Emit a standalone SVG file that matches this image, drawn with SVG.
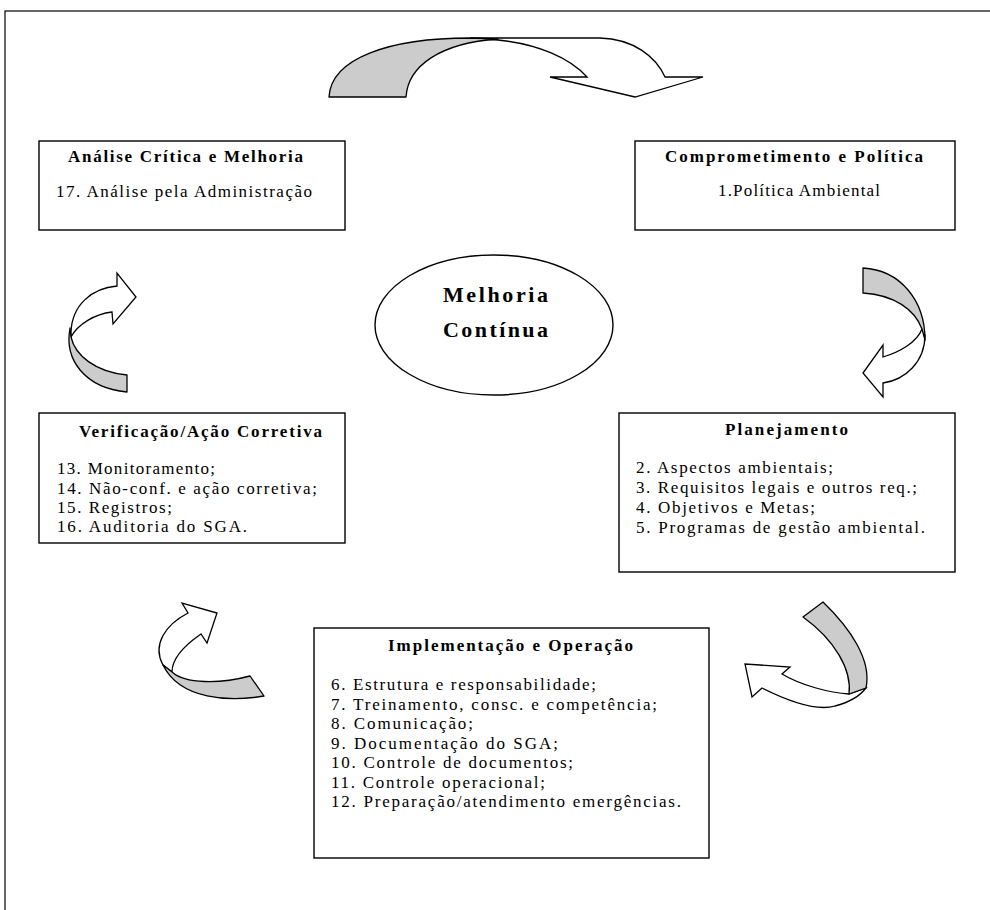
<svg xmlns="http://www.w3.org/2000/svg" width="990" height="910" viewBox="0 0 990 910">
  <style>
    .box { fill: #fff; stroke: #000; stroke-width: 1.4; }
    .frame { fill: none; stroke: #000; stroke-width: 1.2; }
    .band { fill: #cccccc; stroke: #000; stroke-width: 1.3; stroke-linejoin: round; }
    .head { fill: #fff; stroke: #000; stroke-width: 1.3; stroke-linejoin: miter; }
    .ttl { font-family: "Liberation Serif", "Times New Roman", serif; font-weight: bold; font-size: 17px; fill: #000; }
    .txt { font-family: "Liberation Serif", "Times New Roman", serif; font-size: 17px; fill: #000; }
    .big { font-family: "Liberation Serif", "Times New Roman", serif; font-weight: bold; font-size: 22px; fill: #000; }
  </style>

  <rect width="990" height="910" fill="#fff"/>
  <!-- page frame (right and bottom edges fall outside the sheet) -->
  <rect class="frame" x="5" y="11" width="1000" height="1000"/>

  <!-- curved ribbon arrows between the stages -->
  <g id="connectors">
    <g id="arrow-top">
      <path class="head" d="M470,38 L600,38 C634,39 656,57 665,77 L703,77 L635,97 L550,77 L587,77 C570,58 538,44 498,40 Z"/>
      <path class="band" d="M329,97 C331,58 390,38 470,38 L498,39 C440,43 408,66 406,97 Z"/>
    </g>
    <g id="arrow-right">
      <path class="head" d="M922,329 C917,342 900,352 883,357 L883,345 L863,373 L883,397 L883,383 C905,380 925,362 925,335 Z"/>
      <path class="band" d="M863,268 C900,270 925,300 925,340 L922,329 C915,310 895,295 863,293 Z"/>
    </g>
    <g id="arrow-bottom-right">
      <path class="head" d="M849,694 C830,693 800,685 782,674 L790,667 L745,664 L752,697 L762,688 C790,702 818,711 835,706 C850,702 860,696 866,688 Z"/>
      <path class="band" d="M823,602 C850,628 872,660 866,688 L849,694 C852,670 835,640 803,617 Z"/>
    </g>
    <g id="arrow-bottom-left">
      <path class="head" d="M163,665 C152,645 165,625 188,613 L182,603 L217,613 L207,643 L201,634 C185,645 172,658 172,672 Z"/>
      <path class="band" d="M163,665 C180,700 230,702 264,696 L250,676 C220,684 185,684 172,672 Z"/>
    </g>
    <g id="arrow-left">
      <path class="head" d="M71,332 C72,305 92,288 117,286 L117,273 L136,297 L113,324 L112,312 C95,314 78,324 71,337 Z"/>
      <path class="band" d="M70,328 C64,360 85,388 127,392 L127,375 C95,372 75,355 71,337 Z"/>
    </g>
  </g>

  <g id="analise-critica">
    <rect class="box" x="39" y="141" width="306" height="89"/>
    <text class="ttl" x="68" y="162" textLength="235" lengthAdjust="spacing">Análise Crítica e Melhoria</text>
    <text class="txt" x="56" y="197" textLength="256" lengthAdjust="spacing">17. Análise pela Administração</text>
  </g>

  <g id="comprometimento">
    <rect class="box" x="635" y="141" width="320" height="89"/>
    <text class="ttl" x="665" y="162" textLength="258" lengthAdjust="spacing">Comprometimento e Política</text>
    <text class="txt" x="718" y="196" textLength="162" lengthAdjust="spacing">1.Política Ambiental</text>
  </g>

  <g id="melhoria-continua">
    <ellipse class="box" cx="494" cy="325" rx="119" ry="70"/>
    <text class="big" x="443" y="302" textLength="105" lengthAdjust="spacing">Melhoria</text>
    <text class="big" x="443" y="337" textLength="105" lengthAdjust="spacing">Contínua</text>
  </g>

  <g id="verificacao">
    <rect class="box" x="39" y="413" width="306" height="130"/>
    <text class="ttl" x="79" y="437" textLength="243" lengthAdjust="spacing">Verificação/Ação Corretiva</text>
    <text class="txt" x="57" y="474" textLength="158" lengthAdjust="spacing">13. Monitoramento;</text>
    <text class="txt" x="57" y="494" textLength="260" lengthAdjust="spacing">14. Não-conf. e ação corretiva;</text>
    <text class="txt" x="57" y="513" textLength="115" lengthAdjust="spacing">15. Registros;</text>
    <text class="txt" x="57" y="532" textLength="190" lengthAdjust="spacing">16. Auditoria do SGA.</text>
  </g>

  <g id="planejamento">
    <rect class="box" x="619" y="413" width="336" height="159"/>
    <text class="ttl" x="725" y="435" textLength="123" lengthAdjust="spacing">Planejamento</text>
    <text class="txt" x="636" y="473" textLength="197" lengthAdjust="spacing">2. Aspectos ambientais;</text>
    <text class="txt" x="636" y="493" textLength="281" lengthAdjust="spacing">3. Requisitos legais e outros req.;</text>
    <text class="txt" x="636" y="513" textLength="179" lengthAdjust="spacing">4. Objetivos e Metas;</text>
    <text class="txt" x="636" y="533" textLength="289" lengthAdjust="spacing">5. Programas de gestão ambiental.</text>
  </g>

  <g id="implementacao">
    <rect class="box" x="314" y="628" width="395" height="230"/>
    <text class="ttl" x="388" y="651" textLength="245" lengthAdjust="spacing">Implementação e Operação</text>
    <text class="txt" x="331" y="690" textLength="265" lengthAdjust="spacing">6. Estrutura e responsabilidade;</text>
    <text class="txt" x="331" y="709.5" textLength="326" lengthAdjust="spacing">7. Treinamento, consc. e competência;</text>
    <text class="txt" x="331" y="729" textLength="142" lengthAdjust="spacing">8. Comunicação;</text>
    <text class="txt" x="331" y="748.5" textLength="227" lengthAdjust="spacing">9. Documentação do SGA;</text>
    <text class="txt" x="331" y="768" textLength="242" lengthAdjust="spacing">10. Controle de documentos;</text>
    <text class="txt" x="331" y="787.5" textLength="214" lengthAdjust="spacing">11. Controle operacional;</text>
    <text class="txt" x="331" y="807" textLength="350" lengthAdjust="spacing">12. Preparação/atendimento emergências.</text>
  </g>
</svg>
